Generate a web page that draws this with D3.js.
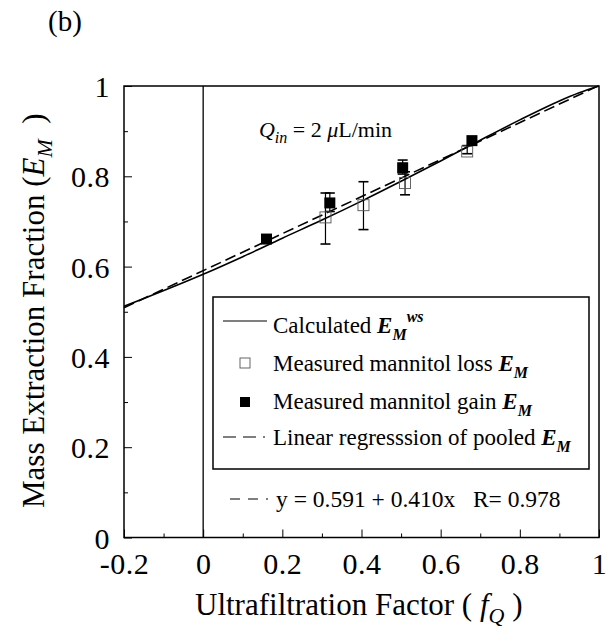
<!DOCTYPE html>
<html><head><meta charset="utf-8">
<script src="https://cdn.jsdelivr.net/npm/d3@7"></script>
<style>
body{margin:0;background:#fff;}
svg{font-family:"Liberation Serif","Times New Roman",serif;}
</style></head>
<body><svg id="c" width="614" height="642"></svg>
<script>
const xTicks=[-0.2,0,0.2,0.4,0.6,0.8,1];
const xTickLabels=["-0.2","0","0.2","0.4","0.6","0.8","1"];
const yTicks=[0,0.2,0.4,0.6,0.8,1];
const yTickLabels=["0","0.2","0.4","0.6","0.8","1"];
const calcF=[-0.2,0,0.1,0.2,0.3,0.4,0.5,0.6,0.7,0.8,0.9,0.95,1.0];
const calcE=[0.512,0.583,0.622,0.663,0.703,0.745,0.789,0.834,0.880,0.925,0.967,0.985,1.0];
const lossF=[0.309,0.405,0.510,0.667];
const lossE=[0.709,0.736,0.785,0.855];
const lossLo=[0.650,0.682,0.759,0.850];
const lossHi=[0.763,0.788,0.810,0.868];
const gainF=[0.160,0.320,0.504,0.679];
const gainE=[0.661,0.741,0.819,0.879];
const gainLo=[0.655,0.722,0.805,0.872];
const gainHi=[0.667,0.763,0.836,0.886];
const regA=0.591, regB=0.410;

const svg=d3.select("#c");
const L=124,R=599,T=86,B=537.5;
const x=d3.scaleLinear().domain([-0.2,1]).range([L,R]);
const y=d3.scaleLinear().domain([0,1]).range([B,T]);

svg.append("rect").attr("x",L).attr("y",T).attr("width",R-L).attr("height",B-T)
  .attr("fill","none").attr("stroke","#000").attr("stroke-width",1.5);
svg.append("line").attr("x1",x(0)).attr("x2",x(0)).attr("y1",T).attr("y2",B)
  .attr("stroke","#000").attr("stroke-width",1.3);

const xa=svg.append("g").attr("transform",`translate(0,${B})`)
  .call(d3.axisBottom(x).tickValues(xTicks).tickSize(-8).tickFormat((d,i)=>xTickLabels[i]).tickPadding(15));
const xm=svg.append("g").attr("transform",`translate(0,${B})`)
  .call(d3.axisBottom(x).tickValues(d3.range(-0.1,1,0.2)).tickSize(-4).tickFormat(""));
const ya=svg.append("g").attr("transform",`translate(${L},0)`)
  .call(d3.axisLeft(y).tickValues(yTicks).tickSize(-8).tickFormat((d,i)=>yTickLabels[i]).tickPadding(14));
const ym=svg.append("g").attr("transform",`translate(${L},0)`)
  .call(d3.axisLeft(y).tickValues(d3.range(0.1,1,0.2)).tickSize(-4).tickFormat(""));
[xa,xm,ya,ym].forEach(g=>{g.select(".domain").remove();
  g.selectAll("line").attr("stroke","#000").attr("stroke-width",1);
  g.selectAll("text").attr("font-family","Liberation Serif, Times New Roman, serif").attr("font-size",30).attr("letter-spacing",0.5).attr("fill","#000");});
xa.selectAll("text").attr("dy","0.71em");
ya.selectAll("text").attr("dy","0.35em");

svg.append("line").attr("x1",x(-0.2)).attr("y1",y(regA+regB*-0.2)).attr("x2",x(1)).attr("y2",y(regA+regB*1))
  .attr("stroke","#000").attr("stroke-width",1.6).attr("stroke-dasharray","11,5");
const calc=calcF.map((f,i)=>[f,calcE[i]]);
svg.append("path").attr("d",d3.line().x(d=>x(d[0])).y(d=>y(d[1])).curve(d3.curveMonotoneX)(calc))
  .attr("fill","none").attr("stroke","#000").attr("stroke-width",1.6);

function ebars(F,Lo,Hi){
  const g=svg.append("g").attr("stroke","#000").attr("stroke-width",1.2);
  F.forEach((f,i)=>{
    g.append("line").attr("x1",x(f)).attr("x2",x(f)).attr("y1",y(Lo[i])).attr("y2",y(Hi[i]));
    [Lo[i],Hi[i]].forEach(v=>g.append("line").attr("x1",x(f)-5).attr("x2",x(f)+5).attr("y1",y(v)).attr("y2",y(v)).attr("stroke-width",1.6));
  });
}
ebars(lossF,lossLo,lossHi);
ebars(gainF,gainLo,gainHi);
const s=11;
svg.append("g").selectAll("rect").data(lossF).join("rect")
  .attr("x",(d)=>x(d)-s/2).attr("y",(d,i)=>y(lossE[i])-s/2).attr("width",s).attr("height",s)
  .attr("fill","none").attr("stroke","#555").attr("stroke-width",0.9);
svg.append("g").selectAll("rect").data(gainF).join("rect")
  .attr("x",(d)=>x(d)-s/2).attr("y",(d,i)=>y(gainE[i])-s/2).attr("width",s).attr("height",s)
  .attr("fill","#000");

const q=svg.append("text").attr("x",392).attr("y",137).attr("text-anchor","end").attr("font-size",22).attr("xml:space","preserve");
q.append("tspan").attr("font-style","italic").text("Q");
q.append("tspan").attr("font-style","italic").attr("font-size",16).attr("dy",6).text("in");
q.append("tspan").attr("dy",-6).text(" = 2 ");
q.append("tspan").attr("font-style","italic").text("μ");
q.append("tspan").text("L/min");

svg.append("rect").attr("x",213).attr("y",297).attr("width",376).attr("height",172)
  .attr("fill","#fff").attr("stroke","#000").attr("stroke-width",1.5);
svg.append("line").attr("x1",223).attr("x2",267).attr("y1",321).attr("y2",321).attr("stroke","#000").attr("stroke-width",1.2);
svg.append("rect").attr("x",240).attr("y",358).attr("width",10).attr("height",10).attr("fill","none").attr("stroke","#555").attr("stroke-width",0.9);
svg.append("rect").attr("x",240).attr("y",397).attr("width",10).attr("height",10).attr("fill","#000");
svg.append("line").attr("x1",223).attr("x2",266).attr("y1",437).attr("y2",437).attr("stroke","#000").attr("stroke-width",1.2).attr("stroke-dasharray","13,7,13,7,2,30");

function legText(yy,main,sup){
  const t=svg.append("text").attr("x",273).attr("y",yy).attr("font-size",23);
  t.append("tspan").text(main+" ");
  t.append("tspan").attr("font-weight","bold").attr("font-style","italic").text("E");
  t.append("tspan").attr("font-weight","bold").attr("font-style","italic").attr("font-size",16).attr("dy",7).text("M");
  if(sup) t.append("tspan").attr("font-weight","bold").attr("font-style","italic").attr("font-size",16).attr("dy",-18).text(sup);
}
legText(333,"Calculated","ws");
legText(371,"Measured mannitol loss");
legText(409,"Measured mannitol gain");
legText(445,"Linear regresssion of pooled");

svg.append("line").attr("x1",230).attr("x2",270).attr("y1",499).attr("y2",499).attr("stroke","#000").attr("stroke-width",1.2).attr("stroke-dasharray","10,8,10,8,2,30");
svg.append("text").attr("x",276).attr("y",507).attr("font-size",23.5).attr("xml:space","preserve").text("y = 0.591 + 0.410x   R= 0.978");

svg.append("text").attr("x",48).attr("y",31).attr("font-size",29).text("(b)");

const xt=svg.append("text").attr("x",195).attr("y",615).attr("font-size",31).attr("xml:space","preserve");
xt.append("tspan").text("Ultrafiltration Factor ( ");
xt.append("tspan").attr("font-style","italic").text("f");
xt.append("tspan").attr("font-style","italic").attr("font-size",22).attr("dy",8).text("Q");
xt.append("tspan").attr("dy",-8).text(" )");

const yt=svg.append("text").attr("transform","translate(44,508) rotate(-90)").attr("font-size",31).attr("xml:space","preserve");
yt.append("tspan").text("Mass Extraction Fraction (");
yt.append("tspan").attr("font-style","italic").text("E");
yt.append("tspan").attr("font-style","italic").attr("font-size",22).attr("dy",8).text("M");
yt.append("tspan").attr("dy",-8).text("  )");
</script></body></html>
